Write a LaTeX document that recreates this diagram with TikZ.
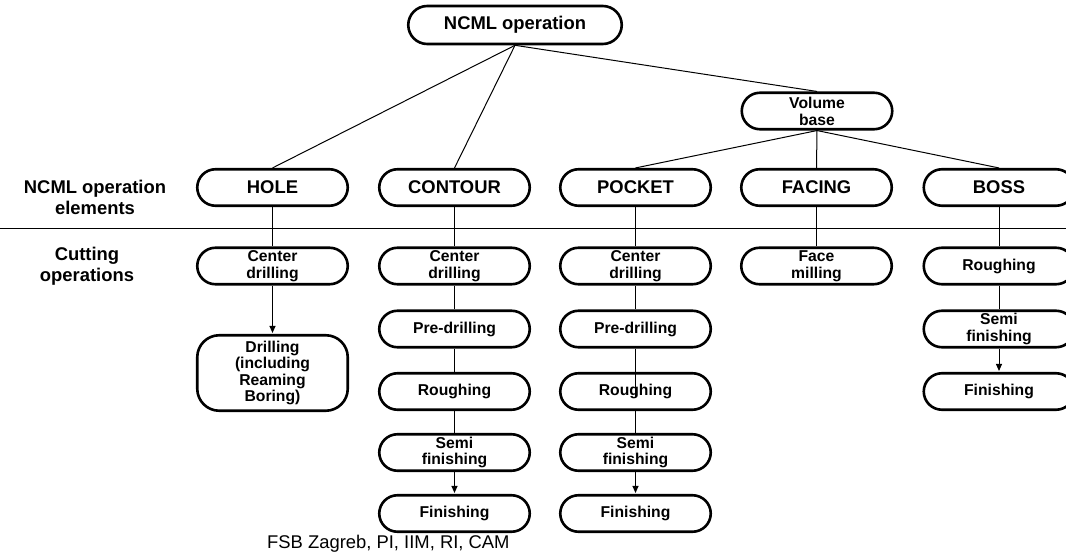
\documentclass[tikz,border=0pt]{standalone}
\usepackage{fontspec}
\setmainfont{Liberation Sans}
\usetikzlibrary{calc,arrows.meta,shapes.misc}

\begin{document}
\begin{tikzpicture}[x=1pt,y=1pt,
  elbox/.style={draw, line width=2.6pt, rounded rectangle,
    minimum width=150.5pt, minimum height=36.5pt, inner sep=0pt, align=center,
    font=\bfseries\fontsize{18.4}{22}\selectfont},
  opbox/.style={elbox, font=\bfseries\fontsize{15.7}{16.8}\selectfont},
  tallbox/.style={rectangle, draw, line width=2.6pt, rounded corners=22pt,
    minimum width=150.5pt, minimum height=75.5pt,
    inner sep=0pt, align=center, font=\bfseries\fontsize{15.7}{16.3}\selectfont},
  sidelabel/.style={align=center, inner sep=0pt,
    font=\bfseries\fontsize{18.4}{21.5}\selectfont},
  link/.style={line width=1pt},
  flow/.style={line width=1pt, -{Triangle[length=7pt,width=6pt]}, shorten >=1pt}
]
\useasboundingbox (0,0) rectangle (1066,-553);

% top of the hierarchy
\node[elbox, minimum width=213.5pt, minimum height=38pt] (ncml) at (515,-25) {NCML operation};
\node[opbox] (vol) at (817,-111) {Volume\\base};

% NCML operation elements
\node[elbox] (hole)    at (272.5,-187.5) {HOLE};
\node[elbox] (contour) at (454.5,-187.5) {CONTOUR};
\node[elbox] (pocket)  at (635.5,-187.5) {POCKET};
\node[elbox] (facing)  at (816.5,-187.5) {FACING};
\node[elbox] (boss)    at (999,-187.5)   {BOSS};

% row captions and separator
\node[sidelabel] (lblel)  at (95,-197.5) {NCML operation\\elements};
\node[sidelabel] (lblcut) at (87,-266)   {Cutting\\operations};
\coordinate (sepL) at (0,-229);
\coordinate (sepR) at (1066,-229);
\draw[link] (sepL) -- (sepR);

% HOLE column
\node[opbox]   (h1) at (272.5,-266) {Center\\drilling};
\node[tallbox] (h2) at (272.5,-373) {Drilling\\(including\\Reaming\\Boring)};

% CONTOUR column
\node[opbox] (c1) at (454.5,-266)   {Center\\drilling};
\node[opbox] (c2) at (454.5,-329)   {Pre-drilling};
\node[opbox] (c3) at (454.5,-391.5) {Roughing};
\node[opbox] (c4) at (454.5,-452.5) {Semi\\finishing};
\node[opbox] (c5) at (454.5,-513.5) {Finishing};

% POCKET column
\node[opbox] (p1) at (635.5,-266)   {Center\\drilling};
\node[opbox] (p2) at (635.5,-329)   {Pre-drilling};
\node[opbox] (p3) at (635.5,-391.5) {Roughing};
\node[opbox] (p4) at (635.5,-452.5) {Semi\\finishing};
\node[opbox] (p5) at (635.5,-513.5) {Finishing};

% FACING column
\node[opbox] (f1) at (816.5,-266) {Face\\milling};

% BOSS column
\node[opbox] (b1) at (999,-266)   {Roughing};
\node[opbox] (b2) at (999,-329)   {Semi\\finishing};
\node[opbox] (b3) at (999,-391.5) {Finishing};

% footer
\node[anchor=base west, inner sep=0pt, font=\fontsize{18.4}{22}\selectfont] (foot)
  at (267,-548) {FSB Zagreb, PI, IIM, RI, CAM};

% hierarchy links
\draw[link] (ncml.south) -- (hole.north);
\draw[link] (ncml.south) -- (contour.north);
\draw[link] (ncml.south) -- (vol.north);
\draw[link] (vol.south) -- (pocket.north);
\draw[link] (vol.south) -- (facing.north);
\draw[link] (vol.south) -- (boss.north);

% element to first operation
\draw[link] (hole.south) -- (h1.north);
\draw[link] (contour.south) -- (c1.north);
\draw[link] (pocket.south) -- (p1.north);
\draw[link] (facing.south) -- (f1.north);
\draw[link] (boss.south) -- (b1.north);

% operation sequences
\draw[flow] (h1.south) -- (h2.north);

\draw[link] (c1.south) -- (c2.north);
\draw[link] (c2.south) -- (c3.north);
\draw[link] (c3.south) -- (c4.north);
\draw[flow] (c4.south) -- (c5.north);

\draw[link] (p1.south) -- (p2.north);
\draw[link] (p2.south) -- ($(p3.center)+(0,-6)$);
\draw[link] (p3.south) -- (p4.north);
\draw[flow] (p4.south) -- (p5.north);

\draw[link] (b1.south) -- (b2.north);
\draw[flow] (b2.south) -- (b3.north);
\end{tikzpicture}
\end{document}
